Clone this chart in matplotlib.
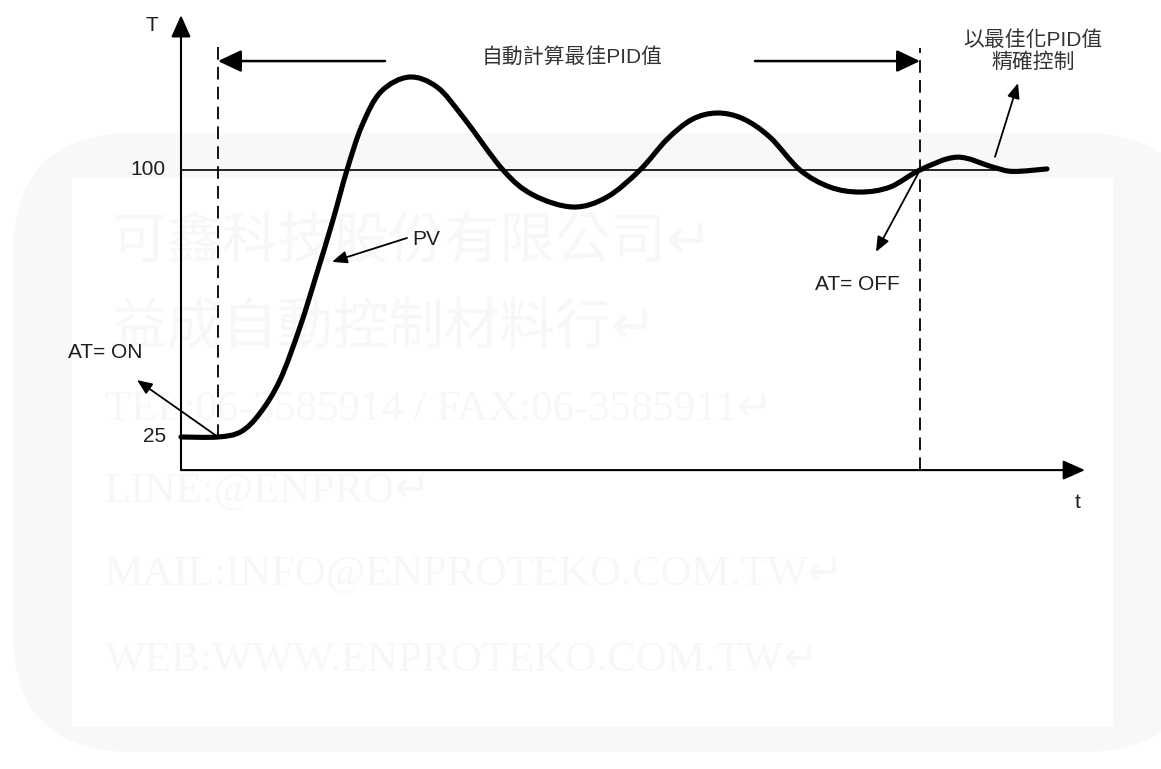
import matplotlib.pyplot as plt
import numpy as np
from matplotlib.patches import FancyBboxPatch, Rectangle, PathPatch
from matplotlib.path import Path

# Data: process value (PV) during auto-tuning, time in arbitrary units, temperature
t_pv = [0, 37, 60, 79, 99, 119, 136, 152, 166, 181, 200, 228, 256, 282, 322, 352,
        392, 426, 459, 486, 511, 536, 562, 589, 619, 649, 679, 709, 739, 776, 812,
        832, 866]
T_pv = [25.0, 25.0, 26.5, 31.7, 41.0, 55.9, 71.1, 86.0, 100.0, 112.5, 122.0, 126.1,
        123.3, 114.9, 100.0, 93.0, 89.6, 92.4, 100.0, 108.6, 114.2, 116.0, 114.4,
        109.2, 100.0, 95.2, 93.8, 95.2, 100.0, 103.6, 100.8, 99.6, 100.3]

setpoint = 100
start_temp = 25
at_on_t = 37
at_off_t = 739
tick_values = [100, 25]

plt.rcParams['font.family'] = ['Liberation Sans', 'Noto Sans CJK TC', 'DejaVu Sans']

fig = plt.figure(figsize=(11.61, 7.69), dpi=100)

# faint watermark behind the chart
bg = fig.add_axes([0, 0, 1, 1], zorder=0)
bg.set_xlim(0, 1161)
bg.set_ylim(769, 0)
bg.axis('off')
bg.add_patch(FancyBboxPatch((13, 133), 1190, 619, boxstyle='round,pad=0,rounding_size=120',
                            fc='#f7f8fa', ec='none'))
bg.add_patch(Rectangle((72, 178), 1041, 549, fc='white', ec='none'))
wm = '#f6f7f8'
for y, s in [(242, '可鑫科技股份有限公司↵'), (328, '益成自動控制材料行↵')]:
    bg.text(112, y, s, fontsize=40, color=wm, va='center',
            family=['DejaVu Sans', 'Noto Sans CJK TC'])
for y, s in [(410, 'TEL:06-3585914 / FAX:06-3585911↵'), (492, 'LINE:@ENPRO↵'),
             (575, 'MAIL:INFO@ENPROTEKO.COM.TW↵'), (660, 'WEB:WWW.ENPROTEKO.COM.TW↵')]:
    bg.text(105, y, s, fontsize=31, color=wm, va='center',
            family=['Liberation Serif', 'DejaVu Sans'])

ax = fig.add_axes([0, 0, 1, 1], zorder=1)
ax.patch.set_alpha(0)
ax.set_xlim(-181, 980)
ax.set_ylim(-68.26, 147.75)
ax.axis('off')

txt = '#1e1e1e'
x_floor = 15.7

def arrow(x0, y0, x1, y1, lw=1.3, hl=0.6, hw=0.25):
    ax.annotate('', xy=(x1, y1), xytext=(x0, y0),
                arrowprops=dict(arrowstyle=f'-|>,head_length={hl},head_width={hw}',
                                mutation_scale=15, lw=lw, color='black',
                                shrinkA=0, shrinkB=0))

# axes with arrows
arrow(0, x_floor, 0, 143.5, lw=1.5, hl=0.9, hw=0.4)
arrow(0, x_floor, 904, x_floor, lw=1.5, hl=0.9, hw=0.4)
ax.text(-29, 140.5, 'T', fontsize=15, color=txt, ha='center', va='center')
ax.text(897, 6.5, 't', fontsize=15, color=txt, ha='center', va='center')

# setpoint line and tick labels
ax.plot([0, 866], [setpoint, setpoint], color='black', lw=1.2)
for v in tick_values:
    ax.text(-15, v, str(v), fontsize=15, color=txt, ha='right', va='center')

# dashed markers for AT on / off
ax.plot([at_on_t, at_on_t], [start_temp, 135.1], color='black', lw=1.3, ls=(0, (7, 4)))
ax.plot([at_off_t, at_off_t], [x_floor, 134.3], color='black', lw=1.3, ls=(0, (7, 4)))

# PV curve drawn as a smooth bezier path through the read points
pts = np.column_stack([t_pv, T_pv])
verts = [pts[0]]
codes = [Path.MOVETO]
for i in range(len(pts) - 1):
    p0 = pts[max(i - 1, 0)]
    p1, p2 = pts[i], pts[i + 1]
    p3 = pts[min(i + 2, len(pts) - 1)]
    verts += [p1 + (p2 - p0) / 6, p2 - (p3 - p1) / 6, p2]
    codes += [Path.CURVE4] * 3
ax.add_patch(PathPatch(Path(verts, codes), fc='none', ec='black', lw=3.7,
                       capstyle='round', joinstyle='round'))

# auto-tuning period arrows
arrow(204, 130.6, at_on_t, 130.6, lw=1.8, hl=0.95, hw=0.45)
arrow(574, 130.6, at_off_t, 130.6, lw=1.8, hl=0.95, hw=0.45)
ax.text(391, 131.7, '自動計算最佳PID值', fontsize=15, color='#333333', ha='center', va='center')

# annotations
ax.text(-113, 48.6, 'AT= ON', fontsize=15, color=txt, ha='left', va='center')
arrow(at_on_t, start_temp, -44, 41.0)
ax.text(231, 80.4, 'PV', fontsize=15, color=txt, ha='left', va='center')
arrow(226, 80.9, 151, 74.2)
ax.text(676, 67.7, 'AT= OFF', fontsize=15, color=txt, ha='center', va='center')
arrow(at_off_t, setpoint, 695, 77.0)
ax.text(852, 127.5, '以最佳化PID值\n精確控制', fontsize=15, color='#333333',
        ha='center', va='bottom', linespacing=1.15)
arrow(814, 103.7, 837, 124.4)

fig.savefig('out.png', dpi=100)
